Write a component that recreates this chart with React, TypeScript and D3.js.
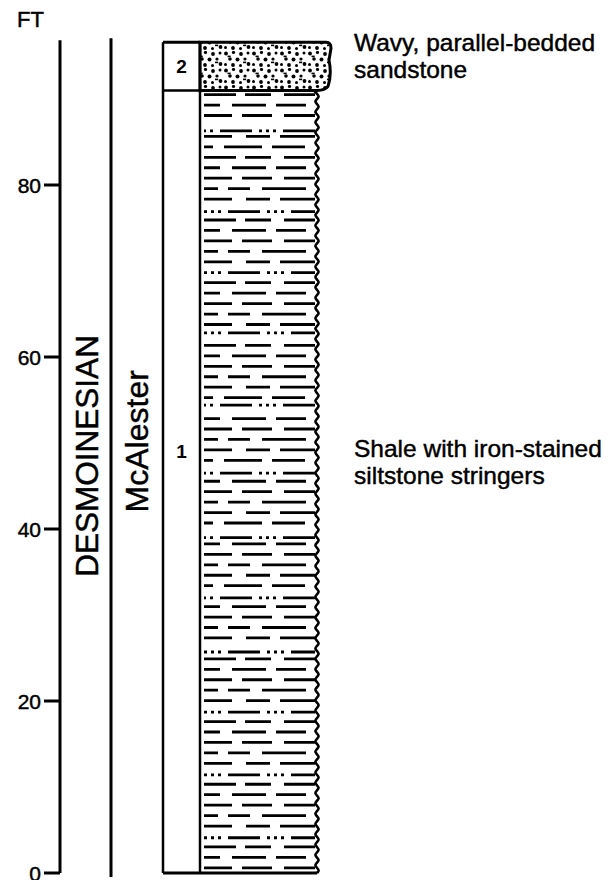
import * as d3 from 'd3';

// stratigraphic units, depths in feet above base of section
const unitIds = ['1', '2'];
const unitLith = ['shale', 'sandstone'];
const unitBase = [0, 91];
const unitTop = [91, 96.6];
const unitLabelAt = [49, 93.8];
const unitDesc = [
  ['Shale with iron-stained', 'siltstone stringers'],
  ['Wavy, parallel-bedded', 'sandstone'],
];

// iron-stained siltstone stringers (ft)
const stringers = [86.3, 76.9, 69.8, 62.8, 54.4, 46.5, 39.0, 32.0, 25.7, 18.7, 11.4, 4.1];

const depthTicks = [0, 20, 40, 60, 80];
const seriesName = 'DESMOINESIAN';
const formationName = 'McAlester';

const W = 613;
const H = 880;
const font = '"Liberation Sans", Arial, Helvetica, sans-serif';
// scanned print looks heavier than the screen font
const ink = { fill: '#000', stroke: '#000', strokeWidth: 0.45 };

const dashCycle = [
  '28,10,30,12,40',
  '22,12,34,10,30',
  '35,9,26,13,36',
  '18,11,38,10,33',
  '30,14,24,10,40',
  '26,10,22,12,44',
];
const dashOffset = [0, 6, 3, 9, 2, 12];
const dotDash = '3,4,3,4,3,7,32,7,3,4,3,4,3,7,40';

export default function App() {
  const y = d3.scaleLinear().domain([0, 100]).range([873, 13]);

  const axisX = 60;
  const formX = 111;
  const colL = 163;
  const colM = 200;
  const shaleR = 317;
  const sandR = 331;

  const top = d3.max(unitTop) as number;
  const shale = unitLith.indexOf('shale');
  const sand = unitLith.indexOf('sandstone');

  // wavy right edge of shale
  const shaleEdge = d3.range(unitBase[shale], unitTop[shale] + 0.01, 0.3).map((d) => [
    shaleR + 2.4 * Math.sin((d / 1.2) * Math.PI * 2),
    y(d),
  ]);
  const edgeLine = d3.line().curve(d3.curveBasis);

  // sandstone outline with bulging right side
  const sb = y(unitBase[sand]);
  const st = y(unitTop[sand]);
  const sandPath =
    `M${colM},${st} L${sandR - 5},${st} Q${sandR},${st} ${sandR},${st + 6} ` +
    `L${sandR - 2},${st + 18} Q${sandR + 1},${(st + sb) / 2 + 8} ${sandR - 3},${sb - 4} ` +
    `Q${sandR - 6},${sb} ${shaleR},${sb} L${colM},${sb} Z`;

  // shale rows
  const step = 1.215;
  const rows = d3.range(0.6, unitTop[shale] - 0.3, step);

  const tickLen = 16;

  return (
    <svg width={W} height={H} style={{ position: 'absolute', left: 0, top: 0 }}>
      <defs>
        <pattern id="sand" width="28" height="17" patternUnits="userSpaceOnUse">
          <g fill="#000">
            <circle cx="2" cy="2.5" r="1.9" />
            <circle cx="9.5" cy="1.5" r="1.6" />
            <circle cx="17" cy="3" r="1.9" />
            <circle cx="24" cy="2" r="1.5" />
            <circle cx="6" cy="8" r="1.8" />
            <circle cx="13.5" cy="8.5" r="2" />
            <circle cx="21" cy="8" r="1.6" />
            <circle cx="1.5" cy="13.5" r="1.5" />
            <circle cx="9" cy="14" r="1.9" />
            <circle cx="16.5" cy="14.5" r="1.5" />
            <circle cx="24.5" cy="13" r="1.9" />
            <rect x="3.5" y="4.6" width="3.2" height="1.6" />
            <rect x="19" y="10.6" width="3.2" height="1.6" />
          </g>
        </pattern>
      </defs>
      <rect width={W} height={H} fill="#fff" />

      {/* depth axis */}
      <text x={17} y={27} fontFamily={font} fontSize={22} {...ink}>
        FT
      </text>
      <line x1={axisX} x2={axisX} y1={y(top) - 2} y2={y(0)} stroke="#000" strokeWidth={3} />
      {depthTicks.map((t) => (
        <g key={t}>
          <line x1={axisX - tickLen} x2={axisX} y1={y(t)} y2={y(t)} stroke="#000" strokeWidth={3} />
          <text
            x={axisX - tickLen - 3}
            y={y(t)}
            dy="0.36em"
            textAnchor="end"
            fontFamily={font}
            fontSize={21}
            {...ink}
          >
            {t}
          </text>
        </g>
      ))}

      {/* series and formation */}
      <text
        transform={`translate(${axisX + 38},${y(48.5)}) rotate(-90)`}
        textAnchor="middle"
        fontFamily={font}
        fontSize={31.5}
        {...ink}
      >
        {seriesName}
      </text>
      <line x1={formX} x2={formX} y1={y(top) - 4} y2={y(0) + 4} stroke="#000" strokeWidth={3} />
      <text
        transform={`translate(${formX + 37},${y(50.2)}) rotate(-90)`}
        textAnchor="middle"
        fontFamily={font}
        fontSize={32}
        {...ink}
      >
        {formationName}
      </text>

      {/* column */}
      <path d={sandPath} fill="url(#sand)" stroke="#000" strokeWidth={3} />
      {rows.map((d, i) => {
        const near = stringers.find((s) => Math.abs(s - d) < step / 2);
        return (
          <line
            key={i}
            x1={colM + 4}
            x2={shaleR - 2}
            y1={y(near ?? d)}
            y2={y(near ?? d)}
            stroke="#000"
            strokeWidth={2.8}
            strokeDasharray={near !== undefined ? dotDash : dashCycle[i % dashCycle.length]}
            strokeDashoffset={near !== undefined ? (i % 3) * 4 : dashOffset[i % dashOffset.length]}
          />
        );
      })}
      <path d={edgeLine(shaleEdge as [number, number][]) ?? ''} fill="none" stroke="#000" strokeWidth={2.6} />
      <line x1={colL} x2={colL} y1={y(top)} y2={y(0)} stroke="#000" strokeWidth={2.5} />
      <line x1={colM} x2={colM} y1={y(top)} y2={y(0)} stroke="#000" strokeWidth={2.5} />
      <line x1={colL} x2={colM} y1={y(top)} y2={y(top)} stroke="#000" strokeWidth={3} />
      <line x1={colL} x2={shaleR} y1={y(0)} y2={y(0)} stroke="#000" strokeWidth={3} />
      {unitBase.slice(1).map((b, i) => (
        <line key={i} x1={colL} x2={shaleR} y1={y(b)} y2={y(b)} stroke="#000" strokeWidth={2.5} />
      ))}

      {unitIds.map((id, i) => (
        <g key={id}>
          <text
            x={(colL + colM) / 2}
            y={y(unitLabelAt[i])}
            dy="0.36em"
            textAnchor="middle"
            fontFamily={font}
            fontWeight="bold"
            fontSize={19}
          >
            {id}
          </text>
          <text fontFamily={font} fontSize={24.5} {...ink}>
            {unitDesc[i].map((ln, j) => (
              <tspan key={j} x={354} y={y(unitLabelAt[i]) + 5 + j * 27 - (i === 1 ? 20 : 0)}>
                {ln}
              </tspan>
            ))}
          </text>
        </g>
      ))}
    </svg>
  );
}
